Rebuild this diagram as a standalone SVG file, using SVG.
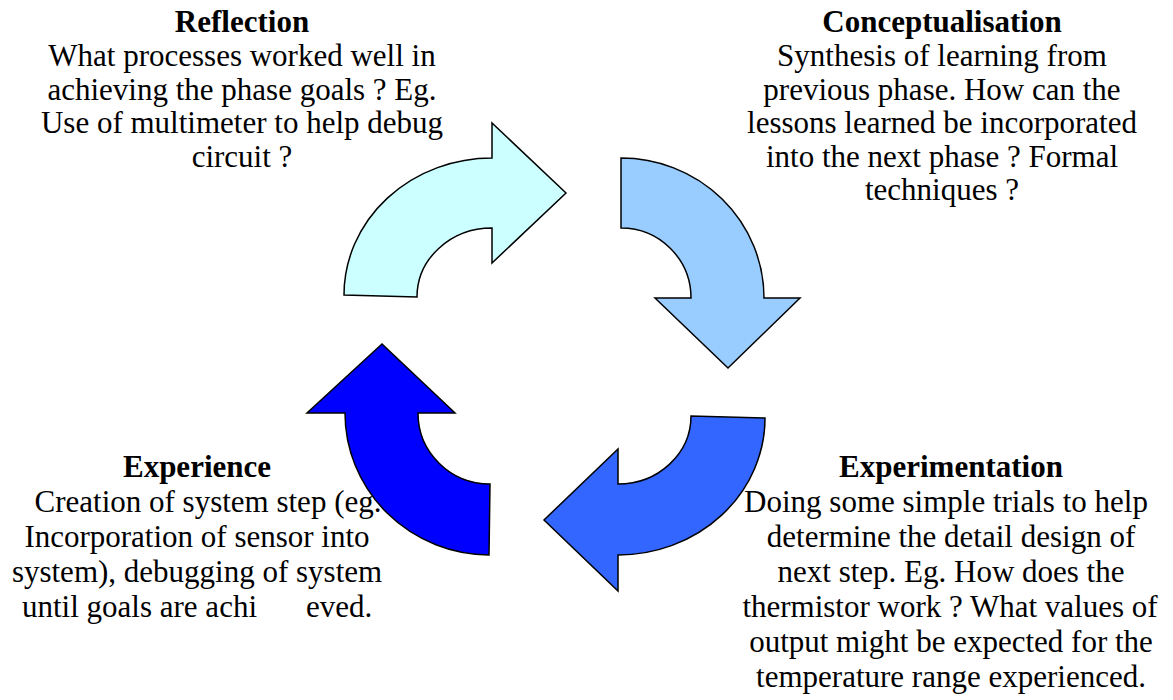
<svg xmlns="http://www.w3.org/2000/svg" width="1173" height="700" viewBox="0 0 1173 700">
<style>
  text { font-family: "Liberation Serif", "Times New Roman", serif; font-size: 31px; fill: #000; }
  .t { font-weight: bold; }
  .c { text-anchor: middle; }
  .arrow { stroke: #000; stroke-width: 1.5; stroke-linejoin: miter; }
</style>
<rect width="1173" height="700" fill="#fff"/>
<g id="connectors">
  <path id="arrow-reflection" class="arrow" fill="#CCFFFF" d="M344,295 A148,137 0 0 1 492,158 L492,123 L566,193 L492,263 L492,228 A75,69 0 0 0 417,297 Z"/>
  <path id="arrow-conceptualisation" class="arrow" fill="#99CCFF" d="M621,158 A143,140 0 0 1 764,298 L800,298 L728,368 L655,298 L691,298 A70,70 0 0 0 621,228 Z"/>
  <path id="arrow-experimentation" class="arrow" fill="#3366FF" d="M765,418 A147,137 0 0 1 618,555 L618,591 L544,520 L618,449 L618,484 A73,68 0 0 0 691,416 Z"/>
  <path id="arrow-experience" class="arrow" fill="#0000FF" d="M489,555 A145,142 0 0 1 345,413 L307,413 L382,344 L455,413 L418,413 A72,71 0 0 0 490,484 Z"/>
</g>
<g id="reflection">
  <text class="t c" x="242" y="32">Reflection</text>
  <text class="c" x="242" y="66">What processes worked well in</text>
  <text class="c" x="242" y="99.5">achieving the phase goals ? Eg.</text>
  <text class="c" x="242" y="133">Use of multimeter to help debug</text>
  <text class="c" x="242" y="166.5">circuit ?</text>
</g>
<g id="conceptualisation">
  <text class="t c" x="942" y="32">Conceptualisation</text>
  <text class="c" x="942" y="66">Synthesis of learning from</text>
  <text class="c" x="942" y="99.5">previous phase. How can the</text>
  <text class="c" x="942" y="133">lessons learned be incorporated</text>
  <text class="c" x="942" y="166.5">into the next phase ? Formal</text>
  <text class="c" x="942" y="200">techniques ?</text>
</g>
<g id="experience">
  <text class="t c" x="197" y="477">Experience</text>
  <text class="c" x="208" y="512">Creation of system step (eg.</text>
  <text class="c" x="197" y="547">Incorporation of sensor into</text>
  <text class="c" x="197" y="582">system), debugging of system</text>
  <text y="617"><tspan x="22">until goals are achi</tspan><tspan x="306">eved.</tspan></text>
</g>
<g id="experimentation">
  <text class="t c" x="951" y="477">Experimentation</text>
  <text class="c" x="946" y="512">Doing some simple trials to help</text>
  <text class="c" x="951" y="547">determine the detail design of</text>
  <text class="c" x="951" y="582">next step. Eg. How does the</text>
  <text class="c" x="950" y="617">thermistor work ? What values of</text>
  <text class="c" x="951" y="652">output might be expected for the</text>
  <text class="c" x="951" y="687">temperature range experienced.</text>
</g>
</svg>
